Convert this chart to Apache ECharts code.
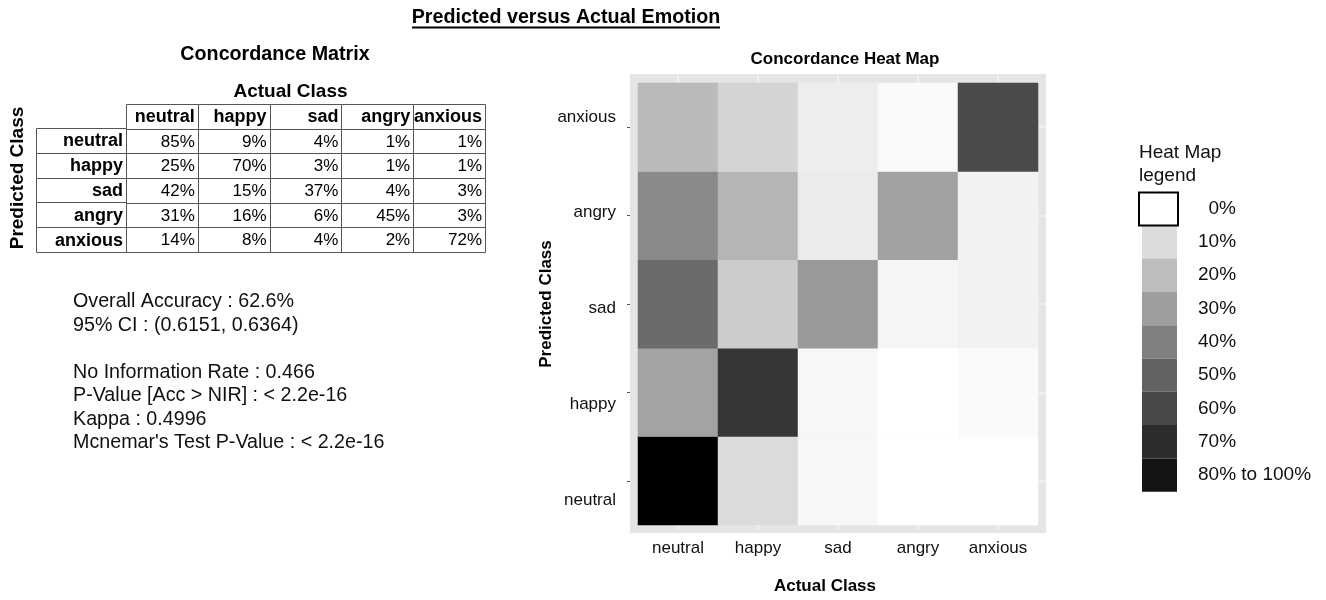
<!DOCTYPE html>
<html>
<head>
<meta charset="UTF-8">
<title>Predicted versus Actual Emotion</title>
<script src="https://cdn.jsdelivr.net/npm/echarts@6/dist/echarts.min.js"></script>
</head>
<body style="margin:0;background:#fff;">
<div id="main" style="width:1326px;height:600px;"></div>
<script type="text/javascript">
var FONT = 'Liberation Sans, Arial, sans-serif';

// classes (same order for predicted and actual)
var actualClasses = ['neutral', 'happy', 'sad', 'angry', 'anxious'];
var predictedClasses = ['neutral', 'happy', 'sad', 'angry', 'anxious'];

// concordance matrix, % per predicted row, columns = actual class
var predNeutral = [85, 9, 4, 1, 1];
var predHappy = [25, 70, 3, 1, 1];
var predSad = [42, 15, 37, 4, 3];
var predAngry = [31, 16, 6, 45, 3];
var predAnxious = [14, 8, 4, 2, 72];

// heat map shading (darkness %), per predicted row
var shadeNeutral = [100, 14, 3, 0, 0];
var shadeHappy = [36, 79, 3, 0, 2];
var shadeSad = [58, 20, 40, 4, 5];
var shadeAngry = [46, 29, 8, 37, 5];
var shadeAnxious = [27, 17, 7, 2, 71];

// legend bins
var legendValues = [0, 10, 20, 30, 40, 50, 60, 70, 80];
var legendLabels = ['  0%', '10%', '20%', '30%', '40%', '50%', '60%', '70%', '80% to 100%'];
var legendColors = ['#ffffff', '#dcdcdc', '#bdbdbd', '#9e9e9e', '#808080', '#636363', '#484848', '#2d2d2d', '#141414'];

var statLines = [
    'Overall Accuracy : 62.6%',
    '95% CI : (0.6151, 0.6364)',
    '',
    'No Information Rate : 0.466',
    'P-Value [Acc > NIR] : < 2.2e-16',
    'Kappa : 0.4996',
    "Mcnemar's Test P-Value : < 2.2e-16"
];

var pctRows = [predNeutral, predHappy, predSad, predAngry, predAnxious];
var shadeRows = [shadeNeutral, shadeHappy, shadeSad, shadeAngry, shadeAnxious];

// table cells: header row + body
var tableData = [], tableText = [], tableBold = [];
actualClasses.forEach(function (c, i) {
    tableData.push([i, 0]); tableText.push(c); tableBold.push(true);
});
pctRows.forEach(function (row, r) {
    row.forEach(function (v, c) {
        tableData.push([c, r + 1]); tableText.push(v + '%'); tableBold.push(false);
    });
});
var rowData = [], rowText = [];
predictedClasses.forEach(function (p, r) {
    rowData.push([0, r]); rowText.push(p);
});

var heatData = [];
shadeRows.forEach(function (row, r) {
    row.forEach(function (v, c) {
        heatData.push([c, r, v]);
    });
});

function cellRenderer(texts, bolds) {
    return function (params, api) {
        var p = api.coord([api.value(0), api.value(1)]);
        var s = api.size([1, 1]);
        var x0 = Math.round(p[0] - s[0] / 2) + 0.5;
        var y0 = Math.round(p[1] - s[1] / 2) + 0.5;
        var bold = bolds ? bolds[params.dataIndex] : true;
        return {
            type: 'group',
            children: [{
                type: 'rect',
                shape: { x: x0, y: y0, width: Math.round(s[0]), height: Math.round(s[1]) },
                style: { fill: '#fff', stroke: '#555', lineWidth: 1 }
            }, {
                type: 'text',
                style: {
                    text: texts[params.dataIndex],
                    x: p[0] + s[0] / 2 - 3,
                    y: p[1] + 1,
                    align: 'right',
                    verticalAlign: 'middle',
                    fontFamily: FONT,
                    fontSize: bold ? 18 : 17,
                    fontWeight: bold ? 'bold' : 'normal',
                    fill: '#000'
                }
            }]
        };
    };
}

var hidden = { show: false };
var myChart = echarts.init(document.getElementById('main'));
myChart.setOption({
    backgroundColor: '#fff',
    animation: false,
    textStyle: { fontFamily: FONT },
    title: [{
        text: 'Predicted versus Actual Emotion',
        left: 566, top: 8, textAlign: 'center', padding: 0,
        textStyle: { fontSize: 19.7, fontWeight: 'bold', color: '#000', fontFamily: FONT }
    }, {
        text: 'Concordance Matrix',
        left: 275, top: 45, textAlign: 'center', padding: 0,
        textStyle: { fontSize: 19.7, fontWeight: 'bold', color: '#000', fontFamily: FONT }
    }, {
        text: 'Concordance Heat Map',
        left: 845, top: 51, textAlign: 'center', padding: 0,
        textStyle: { fontSize: 17, fontWeight: 'bold', color: '#000', fontFamily: FONT }
    }, {
        text: statLines.join('\n'),
        left: 73, top: 290, padding: 0,
        textStyle: { fontSize: 19.7, fontWeight: 'normal', color: '#111', lineHeight: 23.5, fontFamily: FONT }
    }, {
        text: 'Heat Map\nlegend',
        left: 1139, top: 141, padding: 0,
        textStyle: { fontSize: 19, fontWeight: 'normal', color: '#111', lineHeight: 23, fontFamily: FONT }
    }],
    graphic: [{
        type: 'line',
        shape: { x1: 412, y1: 27.5, x2: 720, y2: 27.5 },
        style: { stroke: '#000', lineWidth: 2 }
    }, {
        type: 'rect',
        shape: { x: 1139, y: 192.5, width: 39, height: 33 },
        style: { fill: 'none', stroke: '#000', lineWidth: 2 },
        z: 100
    }],
    grid: [
        { left: 126, top: 104, width: 359, height: 148 },
        { left: 36, top: 128, width: 90, height: 124 },
        { left: 630, top: 74, width: 416, height: 459, show: true, backgroundColor: '#e5e5e5', borderWidth: 0 },
        { left: 638, top: 83, width: 400, height: 445 },
        { left: 638, top: 69, width: 400, height: 479 }
    ],
    xAxis: [{
        gridIndex: 0, type: 'category', data: actualClasses, position: 'top',
        axisLine: hidden, axisTick: hidden, axisLabel: hidden, splitLine: hidden,
        name: 'Actual Class', nameLocation: 'middle', nameGap: 3,
        nameTextStyle: { fontSize: 19, fontWeight: 'bold', color: '#000', padding: [0, 30, 0, 0] }
    }, {
        gridIndex: 1, type: 'category', data: ['row'], show: false
    }, {
        gridIndex: 3, type: 'category', data: actualClasses, position: 'bottom',
        axisLine: hidden,
        axisTick: { show: true, alignWithLabel: true, length: 5, lineStyle: { color: '#f2f2f2', width: 1.5 } },
        axisLabel: { fontSize: 17, color: '#111', margin: 15 },
        splitLine: hidden,
        name: 'Actual Class', nameLocation: 'middle', nameGap: 53,
        nameTextStyle: { fontSize: 17, fontWeight: 'bold', color: '#000', padding: [0, 26, 0, 0] }
    }, {
        gridIndex: 3, type: 'category', data: actualClasses, position: 'top',
        axisLine: hidden, axisLabel: hidden, splitLine: hidden,
        axisTick: { show: true, alignWithLabel: true, length: 9, lineStyle: { color: '#f2f2f2', width: 1.5 } }
    }, {
        gridIndex: 2, type: 'value', min: 0, max: 1, show: false
    }, {
        gridIndex: 4, type: 'value', min: 0, max: 1, show: false
    }],
    yAxis: [{
        gridIndex: 0, type: 'category', data: [''].concat(predictedClasses), inverse: true,
        axisLine: hidden, axisTick: hidden, axisLabel: hidden, splitLine: hidden,
        name: 'Predicted Class', nameLocation: 'middle', nameRotate: 90, nameGap: 99,
        nameTextStyle: { fontSize: 19, fontWeight: 'bold', color: '#000' }
    }, {
        gridIndex: 1, type: 'category', data: predictedClasses, inverse: true, show: false
    }, {
        gridIndex: 3, type: 'category', data: predictedClasses, position: 'left', offset: 8,
        axisLine: hidden, axisLabel: hidden, splitLine: hidden,
        axisTick: { show: true, alignWithLabel: true, length: 3, lineStyle: { color: '#555' } },
        name: 'Predicted Class', nameLocation: 'middle', nameRotate: 90, nameGap: 75,
        nameTextStyle: { fontSize: 17, fontWeight: 'bold', color: '#000' }
    }, {
        gridIndex: 3, type: 'category', data: predictedClasses, position: 'right',
        axisLine: hidden, axisLabel: hidden, splitLine: hidden,
        axisTick: { show: true, alignWithLabel: true, length: 8, lineStyle: { color: '#f2f2f2', width: 1.5 } }
    }, {
        gridIndex: 2, type: 'value', min: 0, max: 1, show: false
    }, {
        gridIndex: 4, type: 'category', data: predictedClasses,
        axisLine: hidden, axisTick: hidden, splitLine: hidden,
        axisLabel: { fontSize: 17, color: '#111', margin: 22 }
    }],
    visualMap: [{
        type: 'continuous', show: false, seriesIndex: 2, dimension: 2,
        min: 0, max: 100,
        inRange: { color: ['#ffffff', '#000000'] }
    }, {
        type: 'piecewise', seriesIndex: [], orient: 'vertical', inverse: true, align: 'left',
        left: 1142, top: 192, padding: 0,
        itemWidth: 35, itemHeight: 33.3, itemGap: 0, textGap: 21,
        itemSymbol: 'rect', hoverLink: false, selectedMode: false,
        textStyle: { fontSize: 19, color: '#111', fontFamily: FONT },
        pieces: legendValues.map(function (v, i) {
            return { value: v, label: legendLabels[i], color: legendColors[i] };
        })
    }],
    series: [{
        type: 'custom', xAxisIndex: 0, yAxisIndex: 0, silent: true,
        renderItem: cellRenderer(tableText, tableBold),
        data: tableData
    }, {
        type: 'custom', xAxisIndex: 1, yAxisIndex: 1, silent: true,
        renderItem: cellRenderer(rowText, null),
        data: rowData
    }, {
        type: 'heatmap', xAxisIndex: 2, yAxisIndex: 2, silent: true,
        itemStyle: { borderWidth: 0 },
        data: heatData
    }]
});
</script>
</body>
</html>
